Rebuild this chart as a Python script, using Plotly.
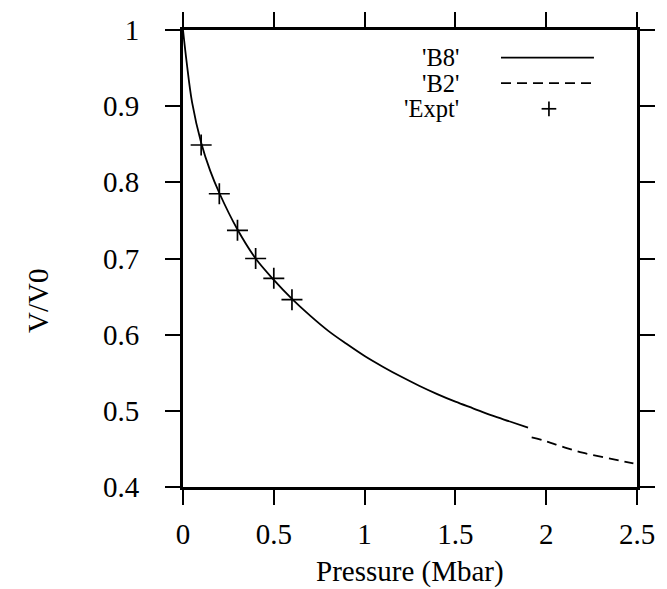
import plotly.graph_objects as go

# Equation-of-state curves: relative volume vs pressure
p_b8 = [0, 0.02, 0.05, 0.1, 0.15, 0.2, 0.3, 0.4, 0.5, 0.6, 0.7, 0.8, 0.9, 1.0,
        1.1, 1.2, 1.3, 1.4, 1.5, 1.6, 1.7, 1.8, 1.9]
v_b8 = [1.0, 0.958, 0.905, 0.852, 0.815, 0.786, 0.738, 0.700, 0.672, 0.647, 0.625,
        0.605, 0.588, 0.572, 0.558, 0.545, 0.533, 0.522, 0.512, 0.503, 0.494, 0.486, 0.478]

p_b2 = [1.92, 2.0, 2.1, 2.2, 2.3, 2.4, 2.48]
v_b2 = [0.465, 0.460, 0.452, 0.445, 0.440, 0.435, 0.431]

# Experimental points
p_expt = [0.1, 0.2, 0.3, 0.4, 0.5, 0.6]
v_expt = [0.849, 0.785, 0.737, 0.700, 0.674, 0.646]

x_ticks = [0, 0.5, 1, 1.5, 2, 2.5]
x_labels = ["0", "0.5", "1", "1.5", "2", "2.5"]
y_ticks = [0.4, 0.5, 0.6, 0.7, 0.8, 0.9, 1.0]
y_labels = ["0.4", "0.5", "0.6", "0.7", "0.8", "0.9", "1"]

legend_names = ["'B8'", "'B2'", "'Expt'"]

FONT = "Liberation Serif"
FS = 29
FS_KEY = 24.5
W, H = 667, 589
L, R, T, B = 183, 20, 23, 102
PW, PH = W - L - R, H - T - B


def px_x(x):
    return (x - L) / PW


def px_y(y):
    return 1 - (y - T) / PH


fig = go.Figure()
fig.add_trace(go.Scatter(x=p_b8, y=v_b8, mode="lines", line=dict(color="black", width=1.8, shape="spline"),
                         showlegend=False))
fig.add_trace(go.Scatter(x=p_b2, y=v_b2, mode="lines", line=dict(color="black", width=1.8, dash="10px,6px",
                                                                  shape="spline"), showlegend=False))
fig.add_trace(go.Scatter(x=p_expt, y=v_expt, mode="markers",
                         marker=dict(symbol="cross-thin", size=15, line=dict(color="black", width=1.7)),
                         showlegend=False))

axis_common = dict(showline=True, linecolor="black", linewidth=2.8, mirror="ticks", ticks="outside",
                   ticklen=15, tickwidth=2.4, tickcolor="black", showgrid=False, zeroline=False,
                   tickfont=dict(family=FONT, size=FS, color="black"))

fig.update_xaxes(range=[0, 2.5], tickvals=x_ticks, ticktext=x_labels, ticklabelstandoff=4, **axis_common)
fig.update_yaxes(range=[0.4, 1.0], tickvals=y_ticks, ticktext=y_labels, ticklabelstandoff=20, **axis_common)

annotations = [
    dict(text="Pressure (Mbar)", x=0.5, y=px_y(573), xref="paper", yref="paper", showarrow=False,
         xanchor="center", yanchor="middle", font=dict(family=FONT, size=FS, color="black")),
    dict(text="V/V0", x=px_x(35), y=px_y(298), xref="paper", yref="paper", showarrow=False,
         textangle=-90, xanchor="center", yanchor="middle", font=dict(family=FONT, size=FS, color="black")),
]

# Key: right-aligned labels followed by line samples
rows = [51, 77, 103]
shapes = []
for name, ry in zip(legend_names, rows):
    annotations.append(dict(text=name, x=px_x(467), y=px_y(ry), xref="paper", yref="paper", showarrow=False,
                            xanchor="right", yanchor="middle", font=dict(family=FONT, size=FS_KEY, color="black")))
shapes.append(dict(type="line", xref="paper", yref="paper", x0=px_x(508), x1=px_x(603),
                   y0=px_y(rows[0]), y1=px_y(rows[0]), line=dict(color="black", width=1.8)))
shapes.append(dict(type="line", xref="paper", yref="paper", x0=px_x(508), x1=px_x(603),
                   y0=px_y(rows[1]), y1=px_y(rows[1]), line=dict(color="black", width=1.8, dash="10px,6px")))
cx, cy = 557, rows[2]
shapes.append(dict(type="line", xref="paper", yref="paper", x0=px_x(cx - 7.5), x1=px_x(cx + 7.5),
                   y0=px_y(cy), y1=px_y(cy), line=dict(color="black", width=1.7)))
shapes.append(dict(type="line", xref="paper", yref="paper", x0=px_x(cx), x1=px_x(cx),
                   y0=px_y(cy - 7.5), y1=px_y(cy + 7.5), line=dict(color="black", width=1.7)))

fig.update_layout(width=W, height=H, margin=dict(l=L, r=R, t=T, b=B, pad=0),
                  paper_bgcolor="white", plot_bgcolor="white",
                  annotations=annotations, shapes=shapes,
                  font=dict(family=FONT, size=FS, color="black"))

fig.write_html("out.html")
